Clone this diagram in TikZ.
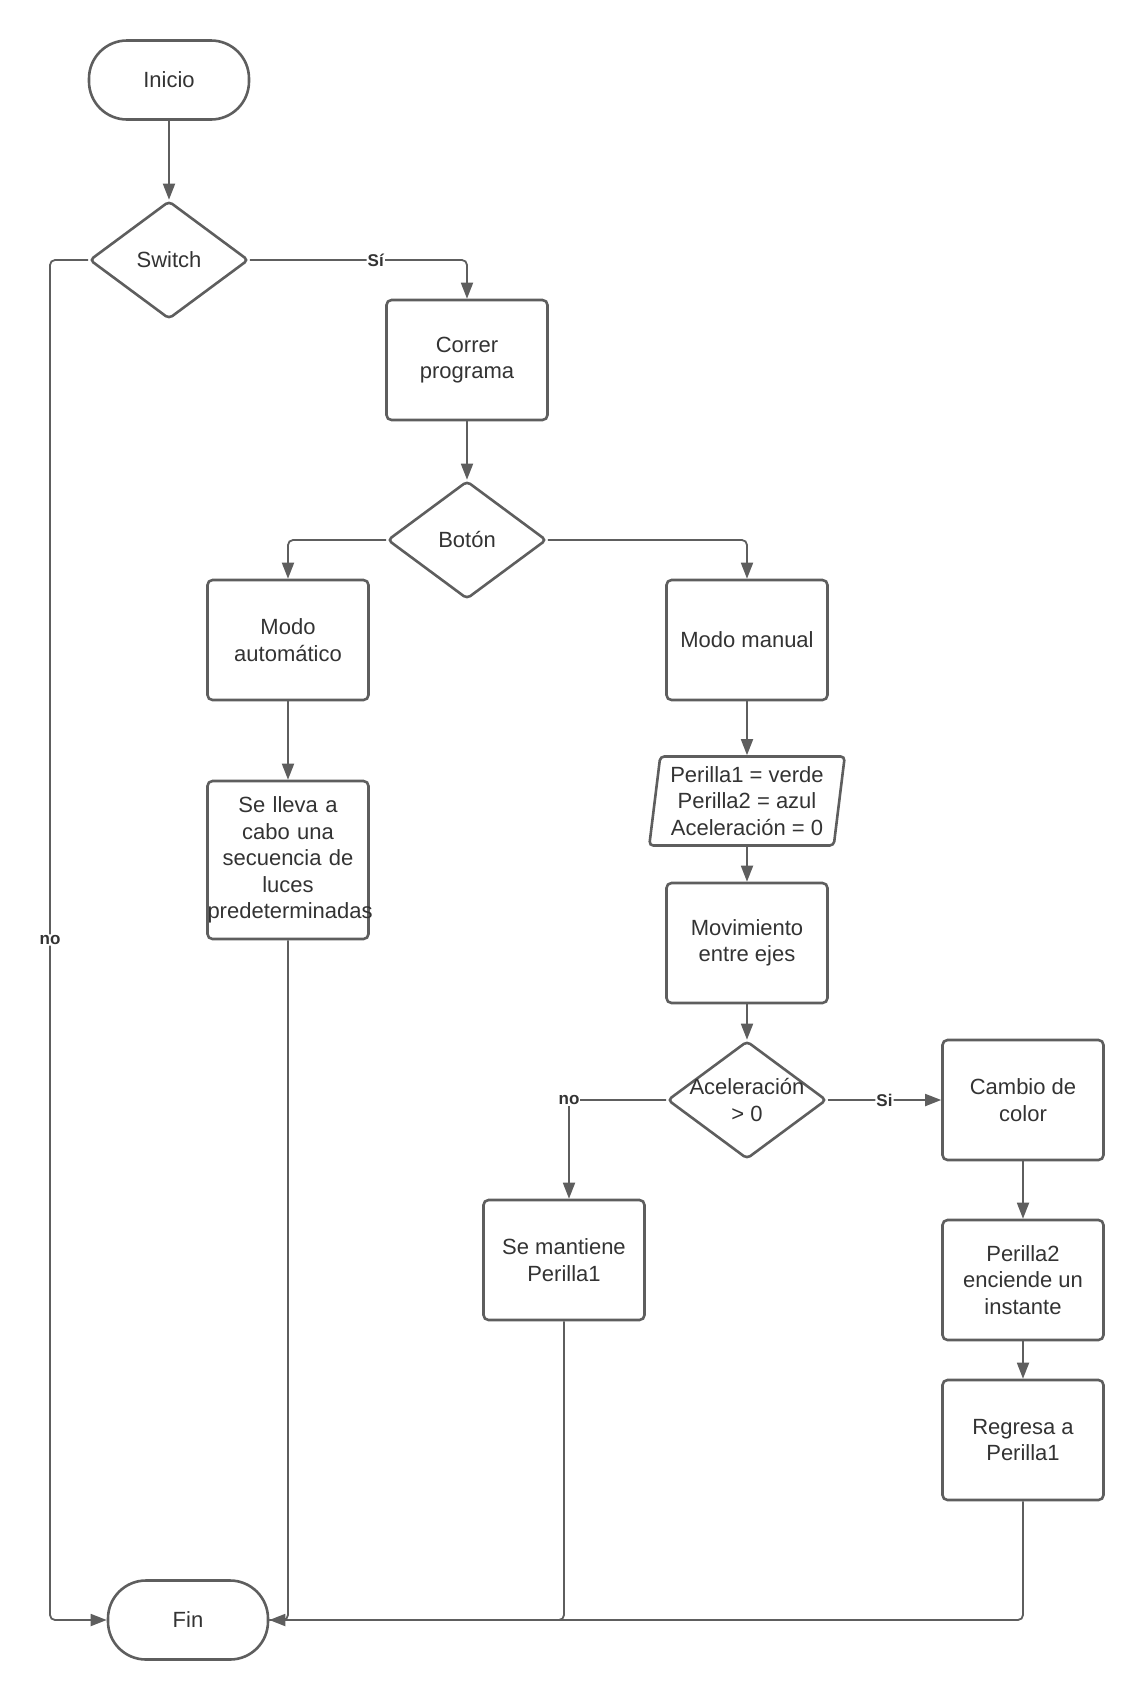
\documentclass[tikz,border=0pt]{standalone}
\usepackage{fontspec}
\setmainfont{Liberation Sans}
\usetikzlibrary{arrows.meta, positioning, shapes.geometric}
\definecolor{fline}{HTML}{5E5E5E}
\definecolor{ftext}{HTML}{333333}
\tikzset{
  base/.style={draw=fline, line width=2.6pt, text=ftext, align=center,
               font=\fontsize{22}{26.5}\selectfont, inner sep=2pt},
  termbox/.style={base, rounded corners=38pt, minimum width=160pt, minimum height=79pt},
  procbox/.style={base, rounded corners=5pt, minimum width=161pt, minimum height=120pt},
  decbox/.style={base, diamond, rounded corners=4pt, minimum width=159pt,
                 minimum height=118pt, inner sep=0pt},
  iobox/.style={base, trapezium, trapezium left angle=82, trapezium right angle=98,
                trapezium stretches=true, rounded corners=4pt,
                minimum width=196pt, minimum height=89pt, inner sep=0pt},
  arr/.style={-{Triangle[length=16pt,width=12pt]}, draw=fline, line width=1.8pt, rounded corners=5pt},
  conn/.style={draw=fline, line width=1.8pt, rounded corners=5pt},
  lbl/.style={fill=white, text=ftext, font=\fontsize{17}{20}\selectfont\bfseries, inner sep=1pt},
}
\begin{document}
\begin{tikzpicture}[x=1pt, y=-1pt]
  \useasboundingbox (0,0) rectangle (1145,1700);

  \node[termbox] (inicio) at (169, 80) {Inicio};
  \node[decbox] (switch) at (169, 260) {Switch};
  \node[procbox] (correr) at (467, 360) {Correr\\programa};
  \node[decbox] (boton) at (467, 540) {Botón};
  \node[procbox] (auto) at (288, 640) {Modo\\automático};
  \node[procbox] (manual) at (747, 640) {Modo manual};
  \node[procbox, minimum height=158pt, text width=161pt, inner xsep=0pt] (secuencia) at (288, 860)
    {Se lleva a\\cabo una\\secuencia de\\luces\\predeterminadas};
  \node[iobox] (valores) at (747, 801) {Perilla1 = verde\\Perilla2 = azul\\Aceleración = 0};
  \node[procbox] (mov) at (747, 943) {Movimiento\\entre ejes};
  \node[decbox] (acel) at (747, 1100)
    {\raisebox{-6pt}{\makebox[0pt]{Aceleración}}\\\raisebox{-6pt}{\makebox[0pt]{> 0}}};
  \node[procbox] (cambio) at (1023, 1100) {Cambio de\\color};
  \node[procbox] (mantiene) at (564, 1260) {Se mantiene\\Perilla1};
  \node[procbox] (perilla2) at (1023, 1280) {Perilla2\\enciende un\\instante};
  \node[procbox] (regresa) at (1023, 1440) {Regresa a\\Perilla1};
  \node[termbox] (fin) at (188, 1620) {Fin};

  \coordinate (nocorner) at (50, 260);
  \coordinate (nocorner2) at (569, 1100);

  \draw[arr] (inicio) -- (switch);
  \draw[arr] (switch.east) -| node[lbl, pos=0.29] {Sí} (correr.north);
  \draw[arr] (switch.west) -- (nocorner) |- node[lbl, pos=0.25] {no} (fin.west);
  \draw[arr] (correr) -- (boton);
  \draw[arr] (boton.west) -| (auto.north);
  \draw[arr] (boton.east) -| (manual.north);
  \draw[arr] (auto) -- (secuencia);
  \draw[arr] (manual) -- (valores);
  \draw[arr] (valores) -- (mov);
  \draw[arr] (mov) -- (acel);
  \draw[arr] (acel.west) -- (nocorner2) -- (nocorner2 |- mantiene.north);
  \node[lbl] (nolbl) at (nocorner2) {no};
  \draw[arr] (acel.east) -- node[lbl, pos=0.5] {Si} (cambio.west);
  \draw[arr] (cambio) -- (perilla2);
  \draw[arr] (perilla2) -- (regresa);
  \draw[conn] (secuencia.south) |- (fin.east);
  \draw[conn] (mantiene.south) |- (fin.east);
  \draw[arr] (regresa.south) |- (fin.east);
\end{tikzpicture}
\end{document}
